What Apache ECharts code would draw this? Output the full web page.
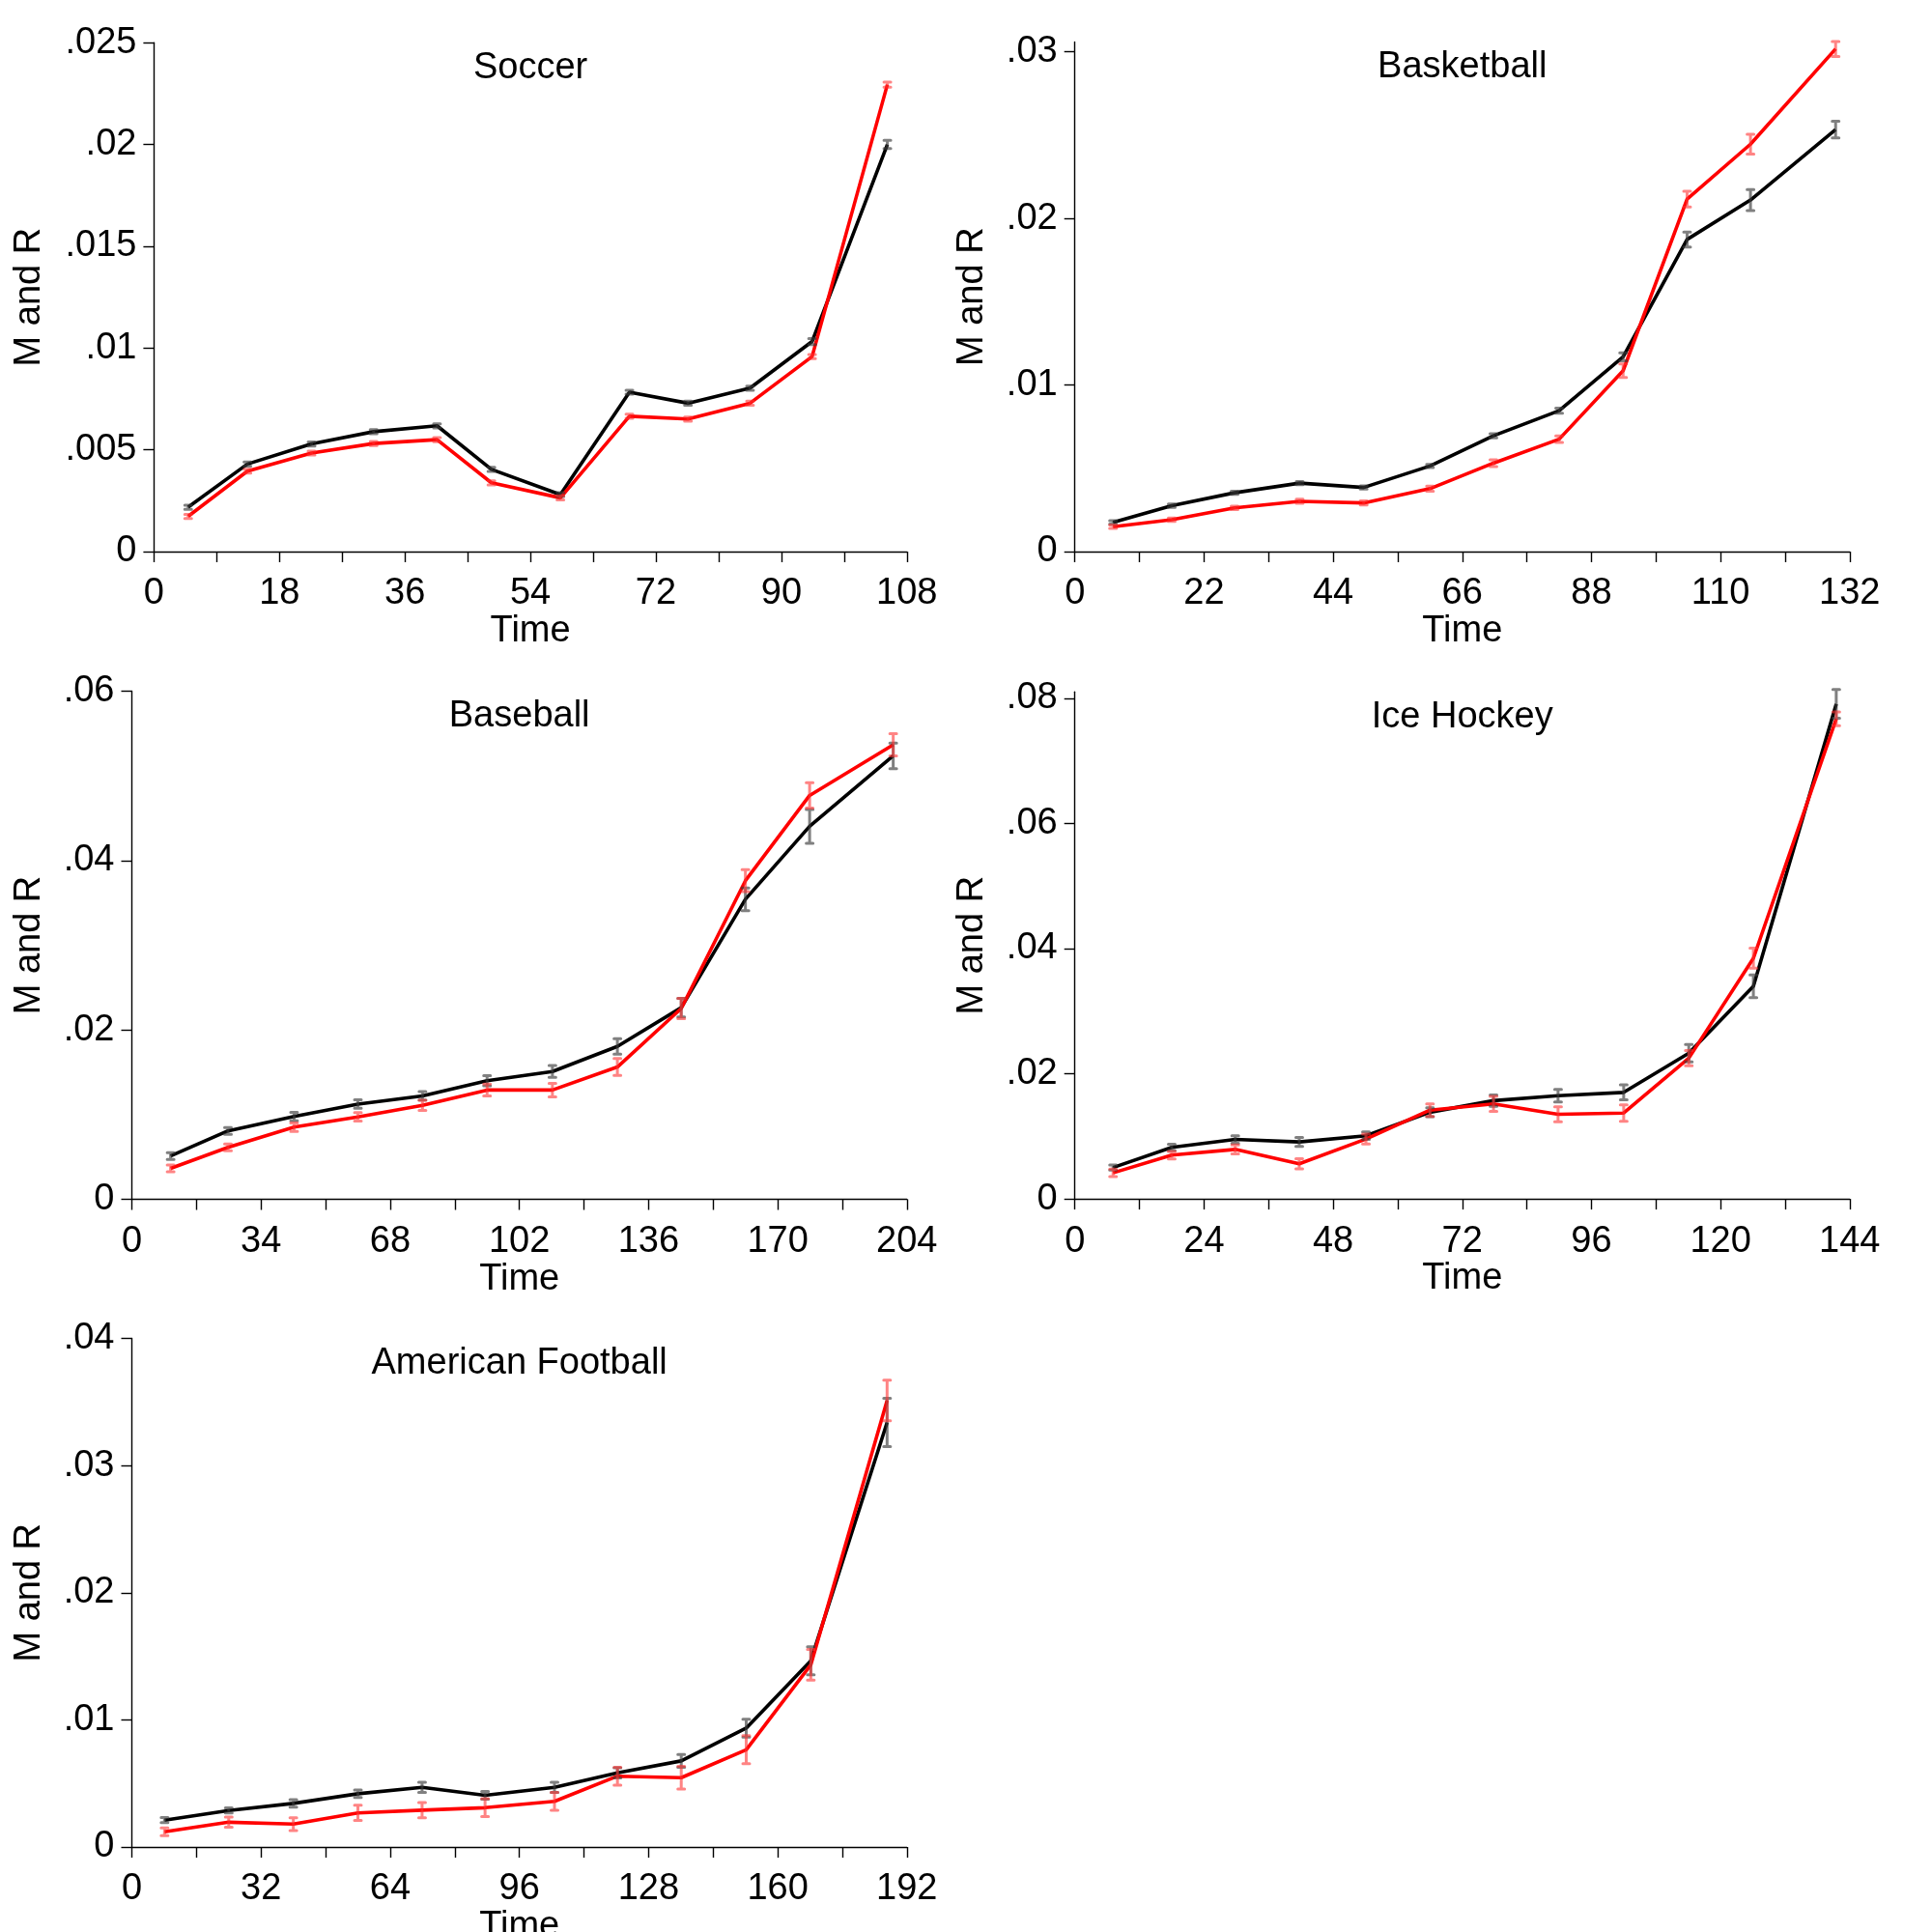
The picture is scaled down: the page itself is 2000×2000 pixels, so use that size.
<!DOCTYPE html>
<html><head><meta charset="utf-8">
<script src="https://cdn.jsdelivr.net/npm/echarts@6/dist/echarts.min.js"></script>
<style>html,body{margin:0;padding:0;background:#fff}#c{width:2000px;height:2000px}</style>
</head><body><div id="c"></div>
<script>
// ---------- DATA ----------
const panelTitles = ['Soccer', 'Basketball', 'Baseball', 'Ice Hockey', 'American Football'];

// Soccer
const soccerTime = [4.9, 13.4, 22.6, 31.5, 40.6, 48.4, 58.3, 68.2, 76.6, 85.5, 94.4, 105.2];
const soccerM    = [0.00218, 0.0043, 0.00529, 0.00589, 0.00618, 0.00404, 0.0028, 0.00783, 0.00729, 0.00803, 0.01032, 0.0200];
const soccerMErr = [0.0001, 0.0001, 0.0001, 0.0001, 0.0001, 0.0001, 0.0001, 0.0001, 0.0001, 0.0001, 0.00015, 0.0002];
const soccerR    = [0.00173, 0.00395, 0.00484, 0.00531, 0.0055, 0.00338, 0.00264, 0.00665, 0.00651, 0.00729, 0.00958, 0.02294];
const soccerRErr = [0.0001, 0.0001, 0.0001, 0.0001, 0.0001, 0.0001, 0.0001, 0.0001, 0.0001, 0.0001, 0.0001, 0.00012];
const soccerXTicks  = [0, 9, 18, 27, 36, 45, 54, 63, 72, 81, 90, 99, 108];
const soccerXLabels = [0, 18, 36, 54, 72, 90, 108];
const soccerYLabels = [0, 0.005, 0.01, 0.015, 0.02, 0.025];

// Basketball
const basketTime = [6.5, 16.5, 27.2, 38.3, 49.2, 60.5, 71.3, 82.5, 93.4, 104.3, 115.1, 129.6];
const basketM    = [0.00176, 0.00275, 0.00353, 0.00411, 0.00385, 0.00514, 0.00695, 0.00846, 0.01169, 0.01874, 0.02111, 0.02534];
const basketMErr = [0.0001, 0.0001, 0.0001, 0.0001, 0.0001, 0.0001, 0.00012, 0.00015, 0.00024, 0.00045, 0.00063, 0.0005];
const basketR    = [0.00149, 0.00191, 0.00262, 0.00302, 0.00292, 0.00378, 0.00531, 0.00675, 0.01086, 0.02116, 0.02446, 0.03018];
const basketRErr = [0.0001, 0.0001, 0.0001, 0.00012, 0.00012, 0.00015, 0.0002, 0.0002, 0.0004, 0.00047, 0.0006, 0.00045];
const basketXTicks  = [0, 11, 22, 33, 44, 55, 66, 77, 88, 99, 110, 121, 132];
const basketXLabels = [0, 22, 44, 66, 88, 110, 132];
const basketYLabels = [0, 0.01, 0.02, 0.03];

// Baseball
const baseTime = [10.2, 25.3, 42.7, 59.5, 76.5, 93.5, 110.7, 127.8, 144.6, 161.5, 178.4, 200.4];
const baseM    = [0.00511, 0.00808, 0.00978, 0.01124, 0.01221, 0.01401, 0.01509, 0.01805, 0.02263, 0.03543, 0.04404, 0.05236];
const baseMErr = [0.0004, 0.0004, 0.0005, 0.0005, 0.0005, 0.0006, 0.0007, 0.0009, 0.0011, 0.00134, 0.002, 0.0015];
const baseR    = [0.00365, 0.00613, 0.00852, 0.00973, 0.01109, 0.0129, 0.0129, 0.01562, 0.02253, 0.03762, 0.04769, 0.05367];
const baseRErr = [0.0004, 0.0004, 0.0005, 0.0005, 0.0006, 0.0007, 0.0008, 0.001, 0.0012, 0.0013, 0.0015, 0.0013];
const baseXTicks  = [0, 17, 34, 51, 68, 85, 102, 119, 136, 153, 170, 187, 204];
const baseXLabels = [0, 34, 68, 102, 136, 170, 204];
const baseYLabels = [0, 0.02, 0.04, 0.06];

// Ice Hockey
const hockeyTime = [7.1, 18.0, 29.8, 41.7, 54.1, 66.0, 77.8, 89.8, 102.0, 114.1, 126.1, 141.5];
const hockeyM    = [0.00501, 0.00824, 0.0095, 0.0091, 0.01009, 0.01385, 0.0157, 0.01649, 0.01702, 0.02328, 0.03397, 0.07909];
const hockeyMErr = [0.0004, 0.0005, 0.0006, 0.0007, 0.0006, 0.0007, 0.0009, 0.001, 0.0012, 0.0014, 0.0018, 0.0023];
const hockeyR    = [0.00416, 0.00699, 0.00791, 0.00561, 0.00956, 0.01418, 0.01517, 0.01352, 0.01372, 0.02249, 0.03845, 0.0767];
const hockeyRErr = [0.0006, 0.0006, 0.0007, 0.0008, 0.0008, 0.001, 0.0012, 0.0012, 0.0013, 0.0012, 0.0016, 0.0011];
const hockeyXTicks  = [0, 12, 24, 36, 48, 60, 72, 84, 96, 108, 120, 132, 144];
const hockeyXLabels = [0, 24, 48, 72, 96, 120, 144];
const hockeyYLabels = [0, 0.02, 0.04, 0.06, 0.08];

// American Football
const footTime = [8.1, 24.0, 40.0, 56.0, 71.9, 87.5, 104.7, 120.3, 136.1, 152.2, 168.2, 187.1];
const footM    = [0.00211, 0.00287, 0.00343, 0.00419, 0.00469, 0.00406, 0.00469, 0.00583, 0.00677, 0.00935, 0.01465, 0.03339];
const footMErr = [0.0002, 0.0002, 0.0003, 0.0003, 0.0004, 0.0003, 0.0004, 0.0004, 0.0005, 0.0007, 0.0011, 0.0019];
const footR    = [0.0012, 0.00195, 0.0018, 0.00268, 0.0029, 0.00309, 0.00359, 0.00557, 0.00545, 0.00765, 0.01433, 0.03512];
const footRErr = [0.0003, 0.0004, 0.0005, 0.0006, 0.0006, 0.0007, 0.0007, 0.0007, 0.0009, 0.0011, 0.0012, 0.0016];
const footXTicks  = [0, 16, 32, 48, 64, 80, 96, 112, 128, 144, 160, 176, 192];
const footXLabels = [0, 32, 64, 96, 128, 160, 192];
const footYLabels = [0, 0.01, 0.02, 0.03, 0.04];

// ---------- LAYOUT / STYLE ----------
const FONT = 'Arial, "Liberation Sans", sans-serif';
const FS = 38;
const panels = [
  {time: soccerTime, m: soccerM, mErr: soccerMErr, r: soccerR, rErr: soccerRErr, xt: soccerXTicks, xl: soccerXLabels, yl: soccerYLabels, xmax: 108, ymax: 0.025,
   grid: {left: 159.4, top: 44.2, width: 779.4, height: 526.8}, nameGap: 110},
  {time: basketTime, m: basketM, mErr: basketMErr, r: basketR, rErr: basketRErr, xt: basketXTicks, xl: basketXLabels, yl: basketYLabels, xmax: 132, ymax: 0.0306,
   grid: {left: 1112.7, top: 43.4, width: 802.1, height: 527.6}, nameGap: 87},
  {time: baseTime, m: baseM, mErr: baseMErr, r: baseR, rErr: baseRErr, xt: baseXTicks, xl: baseXLabels, yl: baseYLabels, xmax: 204, ymax: 0.06,
   grid: {left: 136.5, top: 715.5, width: 802.3, height: 526}, nameGap: 87},
  {time: hockeyTime, m: hockeyM, mErr: hockeyMErr, r: hockeyR, rErr: hockeyRErr, xt: hockeyXTicks, xl: hockeyXLabels, yl: hockeyYLabels, xmax: 144, ymax: 0.081,
   grid: {left: 1112.7, top: 716.3, width: 802.1, height: 524.8}, nameGap: 87},
  {time: footTime, m: footM, mErr: footMErr, r: footR, rErr: footRErr, xt: footXTicks, xl: footXLabels, yl: footYLabels, xmax: 192, ymax: 0.04,
   grid: {left: 136.5, top: 1385.5, width: 802.3, height: 526.5}, nameGap: 87}
];

function yFmt(v) { return v === 0 ? '0' : String(+v.toFixed(6)).replace(/^0\./, '.'); }

function ciRender(color) {
  return function (params, api) {
    const x = api.value(0), lo = api.value(1), hi = api.value(2);
    const a = api.coord([x, lo]), b = api.coord([x, hi]);
    const w = 3.5;
    const st = {stroke: color, lineWidth: 3, lineCap: 'round', lineJoin: 'round', fill: null};
    return {type: 'polyline', shape: {points: [[a[0] - w, a[1]], [a[0] + w, a[1]], [a[0], a[1]], [b[0], b[1]], [b[0] - w, b[1]], [b[0] + w, b[1]]]}, style: st};
  };
}

const grids = [], xAxes = [], yAxes = [], series = [], titles = [];
const axisStyle = {lineStyle: {color: '#000', width: 1.4}};
panels.forEach((p, i) => {
  grids.push(Object.assign({containLabel: false, outerBoundsMode: 'none'}, p.grid));
  titles.push({text: panelTitles[i], left: p.grid.left + p.grid.width / 2 - 5, top: p.grid.top + 2.5, textAlign: 'center',
    textStyle: {fontFamily: FONT, fontSize: FS, fontWeight: 'normal', color: '#000'}});
  xAxes.push({type: 'value', gridIndex: i, min: 0, max: p.xmax,
    name: 'Time', nameLocation: 'middle', nameGap: 60, nameTextStyle: {fontFamily: FONT, fontSize: FS, color: '#000'},
    axisLine: Object.assign({show: true, onZero: false}, axisStyle),
    axisTick: {show: true, length: 11, customValues: p.xt, lineStyle: {color: '#000', width: 1.4}},
    axisLabel: {customValues: p.xl, margin: 25, fontFamily: FONT, fontSize: FS, color: '#000'},
    splitLine: {show: false}});
  yAxes.push({type: 'value', gridIndex: i, min: 0, max: p.ymax,
    name: 'M and R', nameLocation: 'middle', nameRotate: 90, nameGap: p.nameGap,
    nameTextStyle: {fontFamily: FONT, fontSize: FS, color: '#000'},
    axisLine: Object.assign({show: true}, axisStyle),
    axisTick: {show: true, length: 11, customValues: p.yl, lineStyle: {color: '#000', width: 1.4}},
    axisLabel: {customValues: p.yl, margin: 18, padding: [9, 0, 0, 0], formatter: yFmt, fontFamily: FONT, fontSize: FS, color: '#000'},
    splitLine: {show: false}});
  const ciM = p.time.map((t, k) => [t, p.m[k] - p.mErr[k], p.m[k] + p.mErr[k]]);
  const ciR = p.time.map((t, k) => [t, p.r[k] - p.rErr[k], p.r[k] + p.rErr[k]]);
  series.push({type: 'custom', name: 'M CI', xAxisIndex: i, yAxisIndex: i, data: ciM, encode: {x: 0, y: [1, 2]},
    renderItem: ciRender('rgba(60,60,60,0.65)'), z: 3, silent: true});
  series.push({type: 'custom', name: 'R CI', xAxisIndex: i, yAxisIndex: i, data: ciR, encode: {x: 0, y: [1, 2]},
    renderItem: ciRender('rgba(255,50,50,0.6)'), z: 3, silent: true});
  series.push({type: 'line', name: 'M', xAxisIndex: i, yAxisIndex: i, data: p.time.map((t, k) => [t, p.m[k]]),
    symbol: 'none', lineStyle: {color: '#000', width: 3.6}, itemStyle: {color: '#000'}, z: 2});
  series.push({type: 'line', name: 'R', xAxisIndex: i, yAxisIndex: i, data: p.time.map((t, k) => [t, p.r[k]]),
    symbol: 'none', lineStyle: {color: '#ff0000', width: 3.6}, itemStyle: {color: '#ff0000'}, z: 2});
});

const chart = echarts.init(document.getElementById('c'), null, {renderer: 'canvas', width: 2000, height: 2000});
chart.setOption({
  backgroundColor: '#fff',
  animation: false,
  title: titles,
  grid: grids,
  xAxis: xAxes,
  yAxis: yAxes,
  series: series
});
</script>
</body></html>
